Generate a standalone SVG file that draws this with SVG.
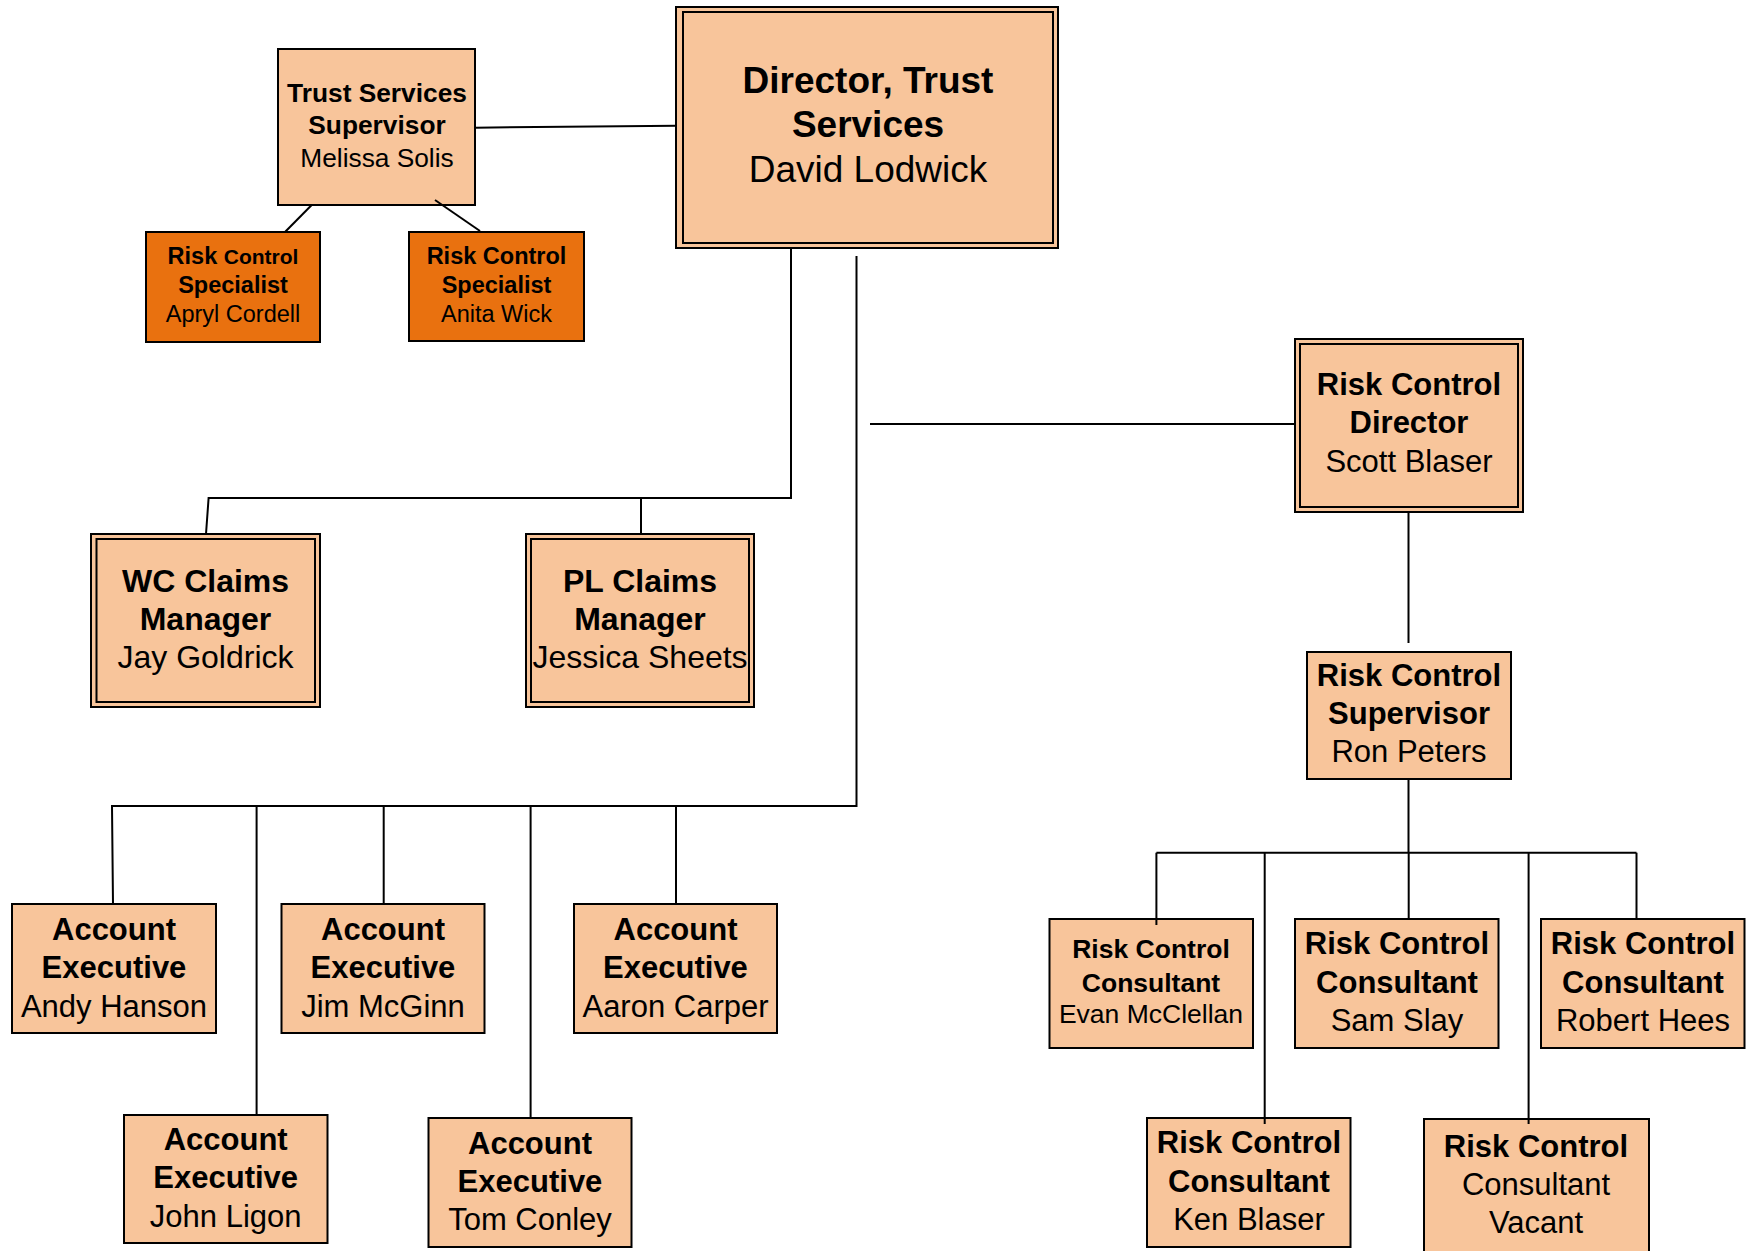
<svg xmlns="http://www.w3.org/2000/svg" width="1756" height="1251" viewBox="0 0 1756 1251">
<style>
.box{fill:#F8C59B;stroke:#000;stroke-width:2}
.obox{fill:#E9710F;stroke:#000;stroke-width:2}
.inner{fill:none;stroke:#000;stroke-width:2}
text{font-family:"Liberation Sans",Arial,sans-serif;text-anchor:middle;fill:#000}
.b{font-weight:bold}
.s37{font-size:37px}
.s31{font-size:31px}
.s32{font-size:32px}
.s26{font-size:26.3px}
.s265{font-size:26.5px}
.s23{font-size:23.5px}
.conn line,.conn polyline{stroke:#000;stroke-width:2;fill:none}
</style>
<rect width="1756" height="1251" fill="#fff"/>
<g id="nodes">
<g id="director">
<rect class="box" x="676" y="7" width="382" height="241"/>
<rect class="inner" x="683" y="12" width="370" height="231"/>
<text class="s37 b" x="868" y="93">Director, Trust</text>
<text class="s37 b" x="868" y="137">Services</text>
<text class="s37" x="868" y="182">David Lodwick</text>
</g>
<g id="trust-supervisor">
<rect class="box" x="278" y="49" width="197" height="156"/>
<text class="s26 b" x="377" y="102">Trust Services</text>
<text class="s26 b" x="377" y="134">Supervisor</text>
<text class="s26" x="377" y="166.5">Melissa Solis</text>
</g>
<g id="specialist-cordell">
<rect class="obox" x="146" y="232" width="174" height="110"/>
<text class="b" x="233" y="264"><tspan font-size="23.5">Risk </tspan><tspan font-size="21">Control</tspan></text>
<text class="s23 b" x="233" y="293">Specialist</text>
<text class="s23" x="233" y="322">Apryl Cordell</text>
</g>
<g id="specialist-wick">
<rect class="obox" x="409" y="232" width="175" height="109"/>
<text class="s23 b" x="496.5" y="264">Risk Control</text>
<text class="s23 b" x="496.5" y="293">Specialist</text>
<text class="s23" x="496.5" y="322">Anita Wick</text>
</g>
<g id="wc-claims">
<rect class="box" x="91" y="534" width="229" height="173"/>
<rect class="inner" x="96.5" y="539" width="218.5" height="163"/>
<text class="s32 b" x="205.5" y="592">WC Claims</text>
<text class="s32 b" x="205.5" y="630">Manager</text>
<text class="s32" x="205.5" y="668">Jay Goldrick</text>
</g>
<g id="pl-claims">
<rect class="box" x="526" y="534" width="228" height="173"/>
<rect class="inner" x="531" y="539" width="218" height="163"/>
<text class="s32 b" x="640" y="592">PL Claims</text>
<text class="s32 b" x="640" y="630">Manager</text>
<text class="s32" x="640" y="668">Jessica Sheets</text>
</g>
<g id="rc-director">
<rect class="box" x="1295" y="339" width="228" height="173"/>
<rect class="inner" x="1300" y="344" width="218" height="163"/>
<text class="s31 b" x="1409" y="395">Risk Control</text>
<text class="s31 b" x="1409" y="433">Director</text>
<text class="s31" x="1409" y="472">Scott Blaser</text>
</g>
<g id="rc-supervisor">
<rect class="box" x="1307" y="652" width="204" height="127"/>
<text class="s31 b" x="1409" y="686">Risk Control</text>
<text class="s31 b" x="1409" y="724">Supervisor</text>
<text class="s31" x="1409" y="762">Ron Peters</text>
</g>
<g id="ae-hanson">
<rect class="box" x="12" y="904" width="204" height="129"/>
<text class="s31 b" x="114" y="940">Account</text>
<text class="s31 b" x="114" y="978">Executive</text>
<text class="s31" x="114" y="1017">Andy Hanson</text>
</g>
<g id="ae-mcginn">
<rect class="box" x="281.5" y="904" width="203" height="129"/>
<text class="s31 b" x="383" y="940">Account</text>
<text class="s31 b" x="383" y="978">Executive</text>
<text class="s31" x="383" y="1017">Jim McGinn</text>
</g>
<g id="ae-carper">
<rect class="box" x="574" y="904" width="203" height="129"/>
<text class="s31 b" x="675.5" y="940">Account</text>
<text class="s31 b" x="675.5" y="978">Executive</text>
<text class="s31" x="675.5" y="1017">Aaron Carper</text>
</g>
<g id="ae-ligon">
<rect class="box" x="124" y="1115" width="203.5" height="128"/>
<text class="s31 b" x="225.7" y="1150">Account</text>
<text class="s31 b" x="225.7" y="1188">Executive</text>
<text class="s31" x="225.7" y="1227">John Ligon</text>
</g>
<g id="ae-conley">
<rect class="box" x="428.5" y="1118" width="203" height="129"/>
<text class="s31 b" x="530" y="1154">Account</text>
<text class="s31 b" x="530" y="1192">Executive</text>
<text class="s31" x="530" y="1230">Tom Conley</text>
</g>
<g id="rc-mcclellan">
<rect class="box" x="1049.5" y="919" width="203.5" height="129"/>
<text class="s265 b" x="1151" y="958">Risk Control</text>
<text class="s265 b" x="1151" y="992">Consultant</text>
<text class="s265" x="1151" y="1023">Evan McClellan</text>
</g>
<g id="rc-slay">
<rect class="box" x="1295" y="919" width="203.5" height="129"/>
<text class="s31 b" x="1397" y="954">Risk Control</text>
<text class="s31 b" x="1397" y="993">Consultant</text>
<text class="s31" x="1397" y="1031">Sam Slay</text>
</g>
<g id="rc-hees">
<rect class="box" x="1541" y="919" width="203.5" height="129"/>
<text class="s31 b" x="1643" y="954">Risk Control</text>
<text class="s31 b" x="1643" y="993">Consultant</text>
<text class="s31" x="1643" y="1031">Robert Hees</text>
</g>
<g id="rc-blaser">
<rect class="box" x="1147" y="1118" width="203.5" height="129"/>
<text class="s31 b" x="1249" y="1153">Risk Control</text>
<text class="s31 b" x="1249" y="1192">Consultant</text>
<text class="s31" x="1249" y="1230">Ken Blaser</text>
</g>
<g id="rc-vacant">
<rect class="box" x="1424" y="1119" width="225" height="145"/>
<text class="s31 b" x="1536" y="1157">Risk Control</text>
<text class="s31" x="1536" y="1195">Consultant</text>
<text class="s31" x="1536" y="1233">Vacant</text>
</g>
</g>
<g id="connectors" class="conn">
<line x1="475" y1="127.7" x2="677" y2="125.7"/>
<line x1="311.7" y1="205" x2="285" y2="232"/>
<line x1="435" y1="200" x2="480" y2="231"/>
<polyline points="791,248 791,498 208.6,498 206,534"/>
<line x1="641" y1="498" x2="641" y2="534"/>
<polyline points="856.5,256 856.5,806 112,806 113,904"/>
<line x1="256.6" y1="806" x2="256.6" y2="1115"/>
<line x1="383.7" y1="806" x2="383.7" y2="904"/>
<line x1="530.6" y1="806" x2="530.6" y2="1119"/>
<line x1="676" y1="806" x2="676" y2="904"/>
<line x1="870" y1="424" x2="1295" y2="424"/>
<line x1="1408.5" y1="512" x2="1408.5" y2="643"/>
<line x1="1408.5" y1="779" x2="1408.5" y2="852.7"/>
<line x1="1156.4" y1="852.7" x2="1636.5" y2="852.7"/>
<line x1="1156.4" y1="852.7" x2="1156.4" y2="925"/>
<line x1="1264.7" y1="852.7" x2="1264.7" y2="1124"/>
<line x1="1408.7" y1="852.7" x2="1408.7" y2="920"/>
<line x1="1528.6" y1="852.7" x2="1528.6" y2="1124"/>
<line x1="1636.5" y1="852.7" x2="1636.5" y2="920"/>
</g>
</svg>
